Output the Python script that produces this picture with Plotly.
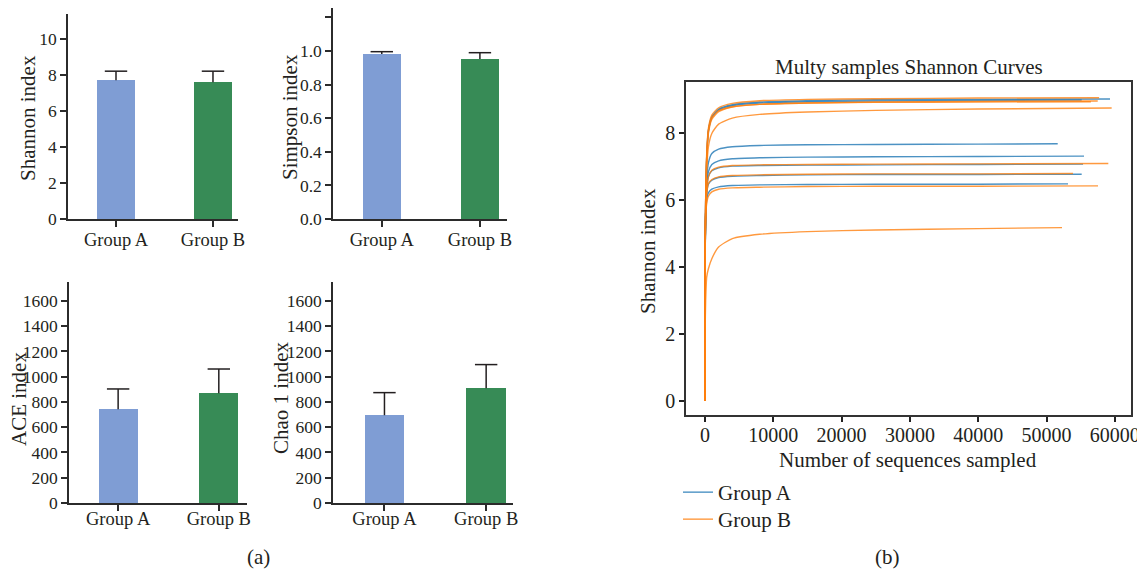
import plotly.graph_objects as go

# page body has an 8px margin: figure is drawn from (8, 8) of the window
OFF = 8
W, H = 1145 - OFF, 573 - OFF
FONT = "Liberation Serif"

# ---------------- data: bar panels ----------------
groups = ["Group A", "Group B"]
shannon_mean = [7.72, 7.61]
shannon_err = [0.50, 0.61]
simpson_mean = [0.982, 0.952]
simpson_err = [0.014, 0.038]
ace_mean = [742, 869]
ace_err = [161, 192]
chao_mean = [695, 908]
chao_err = [179, 188]
bar_colors = ["#7f9dd4", "#378b56"]

# ---------------- data: rarefaction curves ----------------
seq_points = [0, 30, 100, 250, 500, 1000, 2000, 4000, 8000, 15000, 25000, 40000]

groupA_ends = [59300, 55150, 51640, 55490, 55350, 55150, 53150]
groupA_curves = [
    [0, 4.5, 6.0, 7.3, 8.10, 8.50, 8.73, 8.86, 8.94, 8.98, 9.01, 9.02, 9.03],
    [0, 4.5, 6.0, 7.2, 8.05, 8.47, 8.70, 8.83, 8.91, 8.95, 8.97, 8.99, 9.00],
    [0, 4.3, 5.6, 6.6, 7.12, 7.40, 7.53, 7.60, 7.64, 7.66, 7.67, 7.68, 7.69],
    [0, 4.3, 5.6, 6.4, 6.85, 7.07, 7.18, 7.24, 7.27, 7.29, 7.30, 7.31, 7.32],
    [0, 4.3, 5.6, 6.3, 6.70, 6.88, 6.97, 7.02, 7.04, 7.05, 7.06, 7.07, 7.08],
    [0, 4.3, 5.6, 6.2, 6.48, 6.60, 6.68, 6.72, 6.74, 6.76, 6.77, 6.77, 6.78],
    [0, 4.3, 5.5, 6.0, 6.22, 6.33, 6.40, 6.44, 6.46, 6.47, 6.48, 6.48, 6.49],
]

groupB_ends = [57700, 57500, 56500, 59540, 59050, 53880, 57540, 52270]
groupB_curves = [
    [0, 4.5, 6.1, 7.4, 8.15, 8.55, 8.77, 8.90, 8.98, 9.02, 9.04, 9.06, 9.07],
    [0, 4.5, 6.0, 7.3, 8.08, 8.47, 8.68, 8.80, 8.87, 8.91, 8.94, 8.96, 8.97],
    [0, 4.5, 6.0, 7.2, 8.00, 8.42, 8.65, 8.79, 8.87, 8.91, 8.93, 8.94, 8.95],
    [0, 4.4, 5.8, 6.9, 7.60, 8.00, 8.28, 8.46, 8.57, 8.64, 8.69, 8.73, 8.76],
    [0, 4.3, 5.6, 6.3, 6.70, 6.90, 6.99, 7.04, 7.06, 7.07, 7.08, 7.09, 7.10],
    [0, 4.3, 5.6, 6.2, 6.50, 6.62, 6.70, 6.74, 6.76, 6.78, 6.79, 6.79, 6.80],
    [0, 4.3, 5.5, 5.9, 6.12, 6.25, 6.33, 6.37, 6.39, 6.41, 6.42, 6.42, 6.43],
    [0, 2.2, 3.0, 3.7, 3.95, 4.25, 4.60, 4.85, 4.98, 5.06, 5.11, 5.15, 5.18],
]

x_ticks_right = [0, 10000, 20000, 30000, 40000, 50000, 60000]
y_ticks_right = [0, 2, 4, 6, 8]


def dx(px):
    return min(1.0, max(0.0, (px - OFF) / W))


def dy(py):
    return min(1.0, max(0.0, 1 - (py - OFF) / H))


fig = go.Figure()
INK = "#231f20"

# ---------------- bar panels ----------------
panels = [
    ("1", shannon_mean, shannon_err, (68, 238), (219, 14), [-0.495, 1.258], [0, 11.4], [0, 2, 4, 6, 8, 10], None, -3),
    ("2", simpson_mean, simpson_err, (333, 507), (219, 8), [-0.497, 1.276], [0, 1.256], [0, 0.2, 0.4, 0.6, 0.8, 1.0, 1.2], ".1f", -3),
    ("3", ace_mean, ace_err, (69, 247), (503, 282), [-0.488, 1.28], [0, 1750], list(range(0, 1601, 200)), None, -8),
    ("4", chao_mean, chao_err, (333, 513), (503, 282), [-0.506, 1.264], [0, 1750], list(range(0, 1601, 200)), None, -8),
]

axis_line = dict(showline=True, linecolor="#2b2b2b", linewidth=1.5, ticks="outside",
                 tickcolor="#2b2b2b", tickwidth=1.5, showgrid=False, zeroline=False,
                 automargin=False, ticklen=6)

for name, means, errs, (xl, xr), (yb, yt), xr_, yr_, ytv, fmt, xstand in panels:
    xa = "x" + name
    ya = "y" + name
    fig.add_trace(go.Bar(
        x=groups, y=means, width=0.39,
        marker=dict(color=bar_colors, line=dict(width=0)),
        xaxis=xa, yaxis=ya, showlegend=False, hoverinfo="x+y",
    ))
    ex, ey = [], []
    for g, m, e in zip(groups, means, errs):
        ex += [g, g, None]
        ey += [m, m + e, None]
    fig.add_trace(go.Scatter(
        x=ex, y=ey, mode="lines", line=dict(color=INK, width=1.5),
        xaxis=xa, yaxis=ya, showlegend=False, hoverinfo="skip",
    ))
    fig.add_trace(go.Scatter(
        x=groups, y=[m + e for m, e in zip(means, errs)], mode="markers",
        marker=dict(symbol="line-ew", size=16, line=dict(color=INK, width=1.5)),
        xaxis=xa, yaxis=ya, showlegend=False, hoverinfo="skip",
    ))
    fig.update_layout(**{
        "xaxis" + name: dict(domain=[dx(xl), dx(xr)], anchor=ya, type="category",
                             range=xr_, ticklabelstandoff=xstand,
                             tickfont=dict(family=FONT, size=18.5, color=INK), **axis_line),
        "yaxis" + name: dict(domain=[dy(yb), dy(yt)], anchor=xa, range=yr_,
                             tickvals=ytv, tickformat=fmt,
                             tickfont=dict(family=FONT, size=17.5, color=INK), **axis_line),
    })

# ---------------- rarefaction panel ----------------
blue = "rgba(31,119,180,0.8)"
orange = "rgba(255,127,14,0.8)"
for i, (ys, end) in enumerate(zip(groupA_curves, groupA_ends)):
    fig.add_trace(go.Scatter(
        x=seq_points + [end], y=ys, mode="lines",
        line=dict(color=blue, width=1.4, shape="spline", smoothing=0.6),
        name="Group A", showlegend=(i == 0), legend="legend", xaxis="x5", yaxis="y5",
    ))
for i, (ys, end) in enumerate(zip(groupB_curves, groupB_ends)):
    fig.add_trace(go.Scatter(
        x=seq_points + [end], y=ys, mode="lines",
        line=dict(color=orange, width=1.4, shape="spline", smoothing=0.6),
        name="Group B", showlegend=(i == 0), legend="legend2", xaxis="x5", yaxis="y5",
    ))

right_axis = dict(showline=True, linecolor="#333333", linewidth=1.5, mirror=True,
                  ticks="outside", tickcolor="#222222", tickwidth=1.5, ticklen=5,
                  showgrid=False, zeroline=False, automargin=False,
                  tickfont=dict(family=FONT, size=20, color=INK))
fig.update_layout(
    xaxis5=dict(domain=[dx(686), dx(1131)], anchor="y5", range=[-2780, 62370],
                tickvals=x_ticks_right, tickformat="d", ticklabelstandoff=-4, **right_axis),
    yaxis5=dict(domain=[dy(415), dy(82)], anchor="x5", range=[-0.43, 9.54],
                tickvals=y_ticks_right, **right_axis),
)

# ---------------- text ----------------
tfont = dict(family=FONT, size=21, color=INK)
annots = [
    dict(text="Shannon index", x=dx(28), y=dy(118), textangle=-90),
    dict(text="Simpson index", x=dx(290), y=dy(117), textangle=-90),
    dict(text="ACE index", x=dx(19), y=dy(399), textangle=-90),
    dict(text="Chao 1 index", x=dx(281), y=dy(398), textangle=-90),
    dict(text="Shannon index", x=dx(648), y=dy(251), textangle=-90),
    dict(text="Number of sequences sampled", x=dx(908), y=dy(460)),
    dict(text="Multy samples Shannon Curves", x=dx(909), y=dy(67)),
    dict(text="(a)", x=dx(258), y=dy(557)),
    dict(text="(b)", x=dx(887), y=dy(557)),
]
fig.update_layout(annotations=[dict(xref="paper", yref="paper", showarrow=False,
                                    xanchor="center", yanchor="middle", font=tfont, **a)
                               for a in annots])

leg = dict(xanchor="left", yanchor="top", bgcolor="rgba(0,0,0,0)",
           font=dict(family=FONT, size=21, color=INK), itemwidth=30)
fig.update_layout(
    width=W, height=H,
    margin=dict(l=0, r=0, t=0, b=0, autoexpand=False),
    paper_bgcolor="white", plot_bgcolor="white",
    font=dict(family=FONT, size=18, color=INK),
    legend=dict(x=dx(678), y=dy(472), **leg),
    legend2=dict(x=dx(678), y=dy(499), **leg),
    bargap=0,
)

fig.write_html("out.html")
